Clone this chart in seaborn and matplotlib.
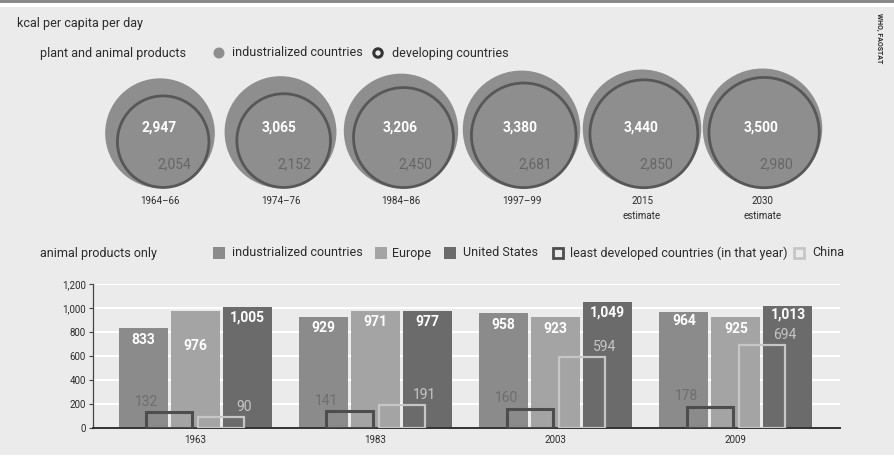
import matplotlib
matplotlib.use("Agg")
import matplotlib.pyplot as plt
from matplotlib.patches import Circle, Rectangle
import numpy as np
import pandas as pd
import seaborn as sns

# --- total intake, kcal per capita per day ---
periods = ["1964–66", "1974–76", "1984–86", "1997–99", "2015\nestimate", "2030\nestimate"]
industrialized_total = [2947, 3065, 3206, 3380, 3440, 3500]
developing_total = [2054, 2152, 2450, 2681, 2850, 2980]

# --- animal products only ---
years = ["1963", "1983", "2003", "2009"]
industrialized_animal = [833, 929, 958, 964]
europe_animal = [976, 971, 923, 925]
us_animal = [1005, 977, 1049, 1013]
least_developed_animal = [132, 141, 160, 178]
china_animal = [90, 191, 594, 694]
y_ticks = [0, 200, 400, 600, 800, 1000, 1200]

bar_groups = ["industrialized countries", "Europe", "United States"]
box_groups = ["least developed countries (in that year)", "China"]

BG = "#ebebeb"
C_IND = "#8b8b8b"
C_EUR = "#a4a4a4"
C_US = "#6b6b6b"
C_LDC = "#4d4d4d"
C_CHN = "#c6c6c6"
C_CIRCLE = "#8e8e8e"
C_RING = "#575757"
TXT = "#2b2b2b"

sns.set_theme(style="white")
plt.rcParams["font.family"] = ["Roboto", "DejaVu Sans"]

fig = plt.figure(figsize=(8.94, 4.66), dpi=100)
fig.patch.set_facecolor("white")

# full-figure layer in pixel units for the panel, circles and legends
ov = fig.add_axes([0, 0, 1, 1], zorder=0)
ov.set_xlim(0, 894)
ov.set_ylim(466, 0)
ov.axis("off")
ov.add_patch(Rectangle((0, 7), 894, 448, color=BG, lw=0, zorder=0))
ov.add_patch(Rectangle((0, 0), 894, 2.5, color="#8a8a8a", lw=0, zorder=0))

ov.text(17, 23, "kcal per capita per day", fontsize=9, color=TXT, va="center", ha="left")
ov.text(879, 38, "WHO, FAOSTAT", fontsize=5, color=TXT, rotation=-90,
        fontweight="bold", va="center", ha="center")

# legend for the circles
ov.text(40, 53, "plant and animal products", fontsize=9, color=TXT, va="center")
ov.add_patch(Circle((219, 53), 5.5, color=C_CIRCLE, lw=0))
ov.text(232, 53, "industrialized countries", fontsize=9, color=TXT, va="center")
ov.add_patch(Circle((378, 53), 4.2, facecolor="none", edgecolor="#333333", lw=2.2))
ov.text(392, 53, "developing countries", fontsize=9, color=TXT, va="center")

# circles: area proportional to kcal, bottoms on a common line
base_y = 188
scale = 1.01
tilt = np.array([0.35, 0.94])
for i, (lab, ind, dev) in enumerate(zip(periods, industrialized_total, developing_total)):
    cx = 160 + i * 120.5
    r_out = scale * np.sqrt(ind)
    r_in = scale * np.sqrt(dev)
    cy = base_y - r_out
    ov.add_patch(Circle((cx, cy), r_out, color=C_CIRCLE, lw=0, zorder=2))
    off = (r_out - r_in) * tilt
    ov.add_patch(Circle((cx + off[0], cy + off[1]), r_in, facecolor="none",
                        edgecolor=C_RING, lw=2.0, zorder=3))
    ov.text(cx - 1, 127.5, f"{ind:,}", fontsize=10, color="white", fontweight="bold",
            ha="center", va="center", zorder=4)
    ov.text(cx + 14, 164.5, f"{dev:,}", fontsize=10, color="#666666",
            ha="center", va="center", zorder=4)
    ov.text(cx, 196, lab, fontsize=7, color=TXT, ha="center", va="top",
            linespacing=1.6, zorder=4)

# legend for the bars
ly = 253
ov.text(40, ly, "animal products only", fontsize=9, color=TXT, va="center")
legend_items = [
    (213, C_IND, True, "industrialized countries", 232),
    (375, C_EUR, True, "Europe", 392),
    (444, C_US, True, "United States", 463),
    (552, C_LDC, False, box_groups[0], 570),
    (793, C_CHN, False, box_groups[1], 812),
]
for x0, col, filled, name, tx in legend_items:
    if filled:
        ov.add_patch(Rectangle((x0, ly - 6), 12, 12, color=col, lw=0))
    else:
        ov.add_patch(Rectangle((x0 + 1, ly - 5), 10, 10, facecolor="none",
                               edgecolor=col, lw=2.0))
    ov.text(tx, ly, name, fontsize=9, color=TXT, va="center")

# bar chart
ax = fig.add_axes([93 / 894, 38 / 466, 747 / 894, 144 / 466], zorder=2)
ax.set_facecolor("none")

animal = pd.DataFrame({
    "year": years * 3,
    "kcal": industrialized_animal + europe_animal + us_animal,
    "group": [g for g in bar_groups for _ in years],
})
sns.barplot(data=animal, x="year", y="kcal", hue="group", order=years,
            hue_order=bar_groups, palette=[C_IND, C_EUR, C_US], width=0.867,
            gap=0.06, errorbar=None, saturation=1, legend=False, linewidth=0, ax=ax)

outline = pd.DataFrame({
    "year": years * 2,
    "kcal": least_developed_animal + china_animal,
    "group": [g for g in box_groups for _ in years],
})
sns.barplot(data=outline, x="year", y="kcal", hue="group", order=years,
            hue_order=box_groups, palette=[C_LDC, C_CHN], width=0.578, gap=0.115,
            fill=False, errorbar=None, saturation=1, legend=False, ax=ax)

for cont, col, lw in zip(ax.containers[3:5], [C_LDC, C_CHN], [2.2, 1.6]):
    for p in cont:
        p.set_facecolor("none")
        p.set_edgecolor(col)
        p.set_linewidth(lw)
        p.set_zorder(3)

# value labels: white inside the filled bars
label_drop = [[100, 290, 88], [96, 88, 94], [100, 98, 91], [72, 100, 71]]
for k, cont in enumerate(ax.containers[:3]):
    for p in cont:
        xc = p.get_x() + p.get_width() / 2
        yi = int(round(xc))
        v = p.get_height()
        ax.text(xc, v - label_drop[yi][k], f"{int(round(v)):,}", color="white",
                fontsize=10, fontweight="bold", ha="center", va="center", zorder=5)

# labels for the outlined boxes
for p in ax.containers[3]:
    v = p.get_height()
    ax.text(p.get_x(), v + 86, f"{int(round(v)):,}", color="#6e6e6e", fontsize=10,
            ha="center", va="center", zorder=5)
for p in ax.containers[4]:
    v = p.get_height()
    ax.text(p.get_x() + p.get_width(), v + 82, f"{int(round(v)):,}", color=C_CHN,
            fontsize=10, ha="center", va="center", zorder=5)

ax.set_xlim(-0.568, 3.578)
ax.set_ylim(0, 1200)
ax.set_yticks(y_ticks)
ax.set_yticklabels([f"{t:,}" for t in y_ticks])
ax.set_xlabel("")
ax.set_ylabel("")
ax.grid(axis="y", color="white", lw=1.5)
ax.grid(axis="x", visible=False)
ax.set_axisbelow(True)
for s in ["top", "right"]:
    ax.spines[s].set_visible(False)
ax.spines["left"].set_color("#444444")
ax.spines["left"].set_linewidth(0.9)
ax.spines["bottom"].set_color("#333333")
ax.spines["bottom"].set_linewidth(1.4)
ax.tick_params(axis="y", length=3, width=0.8, color="#444444", labelsize=7,
               labelcolor=TXT, pad=2, left=True)
ax.tick_params(axis="x", length=0, labelsize=7, labelcolor=TXT, pad=5)

fig.savefig("out.png", dpi=100, facecolor="white")
